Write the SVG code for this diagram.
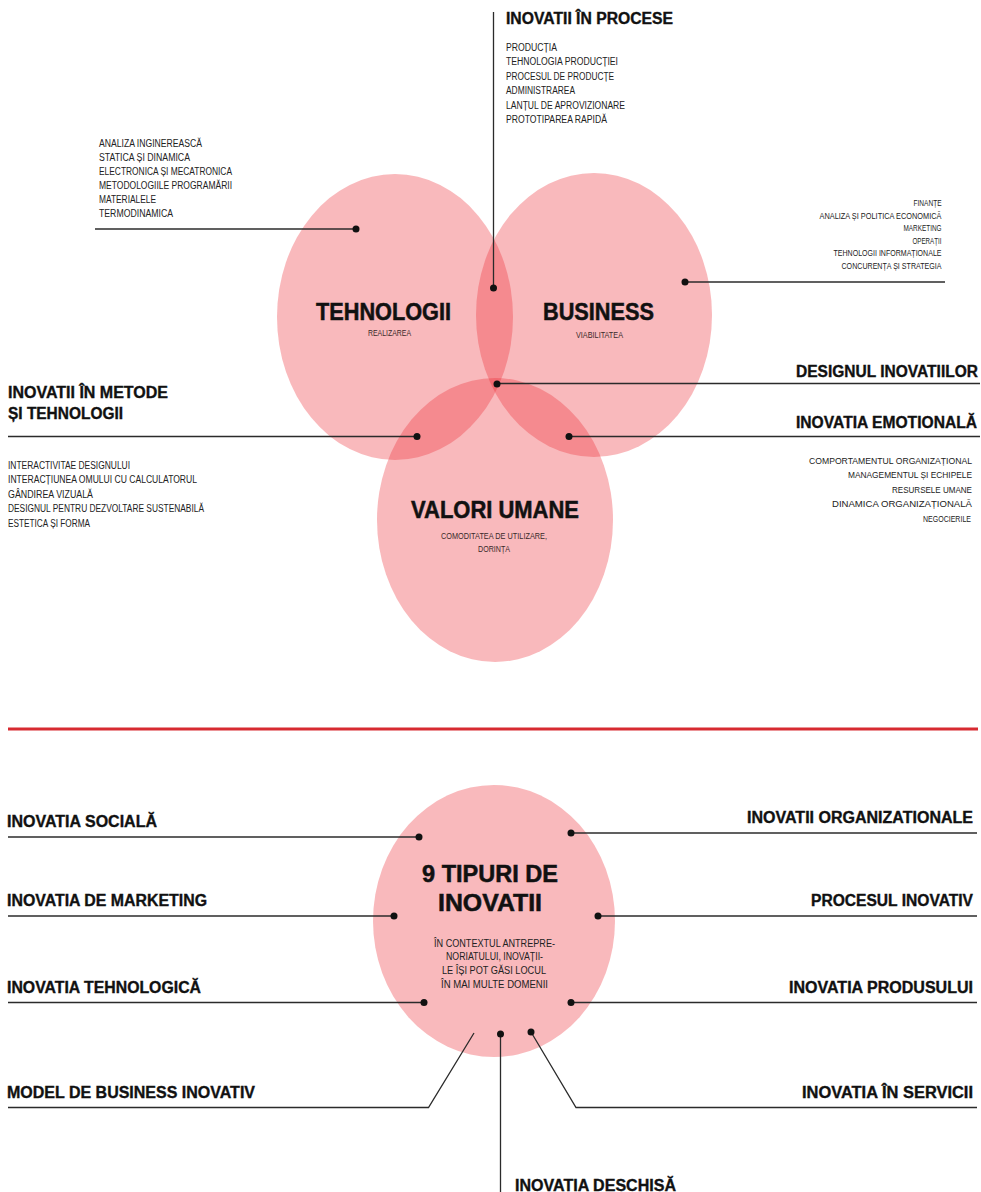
<svg xmlns="http://www.w3.org/2000/svg" width="981" height="1192" viewBox="0 0 981 1192">
  <style>
    .bg { fill: #ffffff; }
    .blob { fill: #ec2a33; fill-opacity: 0.33; }
    .ln { stroke: #2b2b2b; stroke-width: 1.3; fill: none; }
    .dot { fill: #111111; }
    .h { font-family: "Liberation Sans", Arial, sans-serif; font-weight: 700; font-size: 15.6px; fill: #111111; stroke: #111111; stroke-width: 0.35; }
    .t { font-family: "Liberation Sans", Arial, sans-serif; font-weight: 700; font-size: 23px; fill: #111111; stroke: #111111; stroke-width: 0.5; text-anchor: middle; }
    .s { font-family: "Liberation Sans Narrow", "Liberation Sans", Arial, sans-serif; font-size: 10px; fill: #222222; }
    .s2 { font-family: "Liberation Sans Narrow", "Liberation Sans", Arial, sans-serif; font-size: 8.6px; fill: #222222; }
    .xs { font-family: "Liberation Sans Narrow", "Liberation Sans", Arial, sans-serif; font-size: 8.6px; fill: #222222; }
    .sub { font-family: "Liberation Sans Narrow", "Liberation Sans", Arial, sans-serif; font-size: 8.6px; fill: #3a2a2a; text-anchor: middle; }
  </style>

  <rect class="bg" x="0" y="0" width="981" height="1192"/>

  <!-- Venn: three overlapping domains -->
  <g id="tehnologii">
    <ellipse class="blob" cx="395" cy="317" rx="118" ry="143"/>
    <text class="t" x="383.5" y="320" textLength="135" lengthAdjust="spacingAndGlyphs">TEHNOLOGII</text>
    <text class="sub" x="389.5" y="336" textLength="43" lengthAdjust="spacingAndGlyphs">REALIZAREA</text>
  </g>
  <g id="business">
    <ellipse class="blob" cx="594" cy="315" rx="118" ry="142"/>
    <text class="t" x="598.5" y="320" textLength="111" lengthAdjust="spacingAndGlyphs">BUSINESS</text>
    <text class="sub" x="599.5" y="338" textLength="47" lengthAdjust="spacingAndGlyphs">VIABILITATEA</text>
  </g>
  <g id="valori-umane">
    <ellipse class="blob" cx="495" cy="520" rx="118" ry="142"/>
    <text class="t" x="495" y="518" textLength="168" lengthAdjust="spacingAndGlyphs">VALORI UMANE</text>
    <text class="sub" x="494" y="539" textLength="106" lengthAdjust="spacingAndGlyphs">COMODITATEA DE UTILIZARE,</text>
    <text class="sub" x="494" y="552" textLength="32" lengthAdjust="spacingAndGlyphs">DORINȚA</text>
  </g>

  <!-- divider -->
  <line x1="8" y1="729" x2="978" y2="729" stroke="#d72a31" stroke-width="3"/>

  <!-- nine types of innovation -->
  <g id="noua-tipuri">
    <ellipse class="blob" cx="494" cy="921" rx="121" ry="136"/>
    <text class="t" x="490" y="882" textLength="136" lengthAdjust="spacingAndGlyphs">9 TIPURI DE</text>
    <text class="t" x="490" y="911" textLength="104" lengthAdjust="spacingAndGlyphs">INOVATII</text>
    <text class="s" x="494.5" y="946.5" text-anchor="middle" textLength="121" lengthAdjust="spacingAndGlyphs">ÎN CONTEXTUL ANTREPRE-</text>
    <text class="s" x="494.5" y="960" text-anchor="middle" textLength="97" lengthAdjust="spacingAndGlyphs">NORIATULUI, INOVAȚII-</text>
    <text class="s" x="494" y="974" text-anchor="middle" textLength="104" lengthAdjust="spacingAndGlyphs">LE ÎȘI POT GĂSI LOCUL</text>
    <text class="s" x="494.5" y="988" text-anchor="middle" textLength="107" lengthAdjust="spacingAndGlyphs">ÎN MAI MULTE DOMENII</text>
  </g>

  <!-- leader lines and their end dots -->
  <g id="connectors">
    <line class="ln" x1="493.5" y1="12" x2="493.5" y2="288"/>
    <line class="ln" x1="95" y1="229" x2="356" y2="229"/>
    <line class="ln" x1="685" y1="282" x2="945" y2="282"/>
    <line class="ln" x1="497" y1="383.5" x2="980" y2="383.5"/>
    <line class="ln" x1="569" y1="436.5" x2="980" y2="436.5"/>
    <line class="ln" x1="8" y1="436.5" x2="417" y2="436.5"/>

    <line class="ln" x1="8" y1="837" x2="419" y2="837"/>
    <line class="ln" x1="8" y1="916" x2="394" y2="916"/>
    <line class="ln" x1="8" y1="1002.5" x2="424" y2="1002.5"/>
    <polyline class="ln" points="8,1107.5 428.5,1107.5 474,1033"/>
    <line class="ln" x1="571" y1="833" x2="977" y2="833"/>
    <line class="ln" x1="598" y1="916" x2="977" y2="916"/>
    <line class="ln" x1="571" y1="1002.5" x2="977" y2="1002.5"/>
    <polyline class="ln" points="531,1032 576,1107.5 977,1107.5"/>
    <line class="ln" x1="500.5" y1="1034" x2="500.5" y2="1192"/>

    <circle class="dot" cx="493.5" cy="288" r="3.5"/>
    <circle class="dot" cx="356" cy="229" r="3.5"/>
    <circle class="dot" cx="685" cy="282" r="3.5"/>
    <circle class="dot" cx="497" cy="384" r="3.5"/>
    <circle class="dot" cx="569" cy="436.5" r="3.5"/>
    <circle class="dot" cx="417" cy="436.5" r="3.5"/>
    <circle class="dot" cx="419" cy="837" r="3.5"/>
    <circle class="dot" cx="394" cy="916" r="3.5"/>
    <circle class="dot" cx="424" cy="1002.5" r="3.5"/>
    <circle class="dot" cx="571" cy="833" r="3.5"/>
    <circle class="dot" cx="598" cy="916" r="3.5"/>
    <circle class="dot" cx="571" cy="1002.5" r="3.5"/>
    <circle class="dot" cx="531" cy="1032" r="3.5"/>
    <circle class="dot" cx="500.5" cy="1034" r="3.5"/>
  </g>

  <!-- process innovation -->
  <g id="inovatii-procese">
    <text class="h" x="506" y="24" textLength="167" lengthAdjust="spacingAndGlyphs">INOVATII ÎN PROCESE</text>
    <text class="s" x="506" y="50.5" textLength="51" lengthAdjust="spacingAndGlyphs">PRODUCȚIA</text>
    <text class="s" x="506" y="65" textLength="112" lengthAdjust="spacingAndGlyphs">TEHNOLOGIA PRODUCȚIEI</text>
    <text class="s" x="506" y="79.5" textLength="108" lengthAdjust="spacingAndGlyphs">PROCESUL DE PRODUCȚE</text>
    <text class="s" x="506" y="94" textLength="69" lengthAdjust="spacingAndGlyphs">ADMINISTRAREA</text>
    <text class="s" x="506" y="108.5" textLength="119" lengthAdjust="spacingAndGlyphs">LANȚUL DE APROVIZIONARE</text>
    <text class="s" x="506" y="123" textLength="101" lengthAdjust="spacingAndGlyphs">PROTOTIPAREA RAPIDĂ</text>
  </g>

  <!-- engineering topics -->
  <g id="tehnologii-lista">
    <text class="s" x="99" y="146.5" textLength="103" lengthAdjust="spacingAndGlyphs">ANALIZA INGINEREASCĂ</text>
    <text class="s" x="99" y="160.5" textLength="91" lengthAdjust="spacingAndGlyphs">STATICA ȘI DINAMICA</text>
    <text class="s" x="99" y="174.5" textLength="133" lengthAdjust="spacingAndGlyphs">ELECTRONICA ȘI MECATRONICA</text>
    <text class="s" x="99" y="188.5" textLength="133" lengthAdjust="spacingAndGlyphs">METODOLOGIILE PROGRAMĂRII</text>
    <text class="s" x="99" y="202.5" textLength="57" lengthAdjust="spacingAndGlyphs">MATERIALELE</text>
    <text class="s" x="99" y="216.5" textLength="74" lengthAdjust="spacingAndGlyphs">TERMODINAMICA</text>
  </g>

  <!-- business topics (right edge at 941.5) -->
  <g id="business-lista">
    <text class="xs" x="913.5" y="206" textLength="28" lengthAdjust="spacingAndGlyphs">FINANȚE</text>
    <text class="xs" x="819.5" y="218.5" textLength="122" lengthAdjust="spacingAndGlyphs">ANALIZA ȘI POLITICA ECONOMICĂ</text>
    <text class="xs" x="903.5" y="231" textLength="38" lengthAdjust="spacingAndGlyphs">MARKETING</text>
    <text class="xs" x="912.5" y="243.5" textLength="29" lengthAdjust="spacingAndGlyphs">OPERAȚII</text>
    <text class="xs" x="833.5" y="256" textLength="108" lengthAdjust="spacingAndGlyphs">TEHNOLOGII INFORMAȚIONALE</text>
    <text class="xs" x="841.5" y="268.5" textLength="100" lengthAdjust="spacingAndGlyphs">CONCURENȚA ȘI STRATEGIA</text>
  </g>

  <g id="designul-inovatiilor">
    <text class="h" x="796" y="377" textLength="182" lengthAdjust="spacingAndGlyphs">DESIGNUL INOVATIILOR</text>
  </g>

  <!-- emotional innovation (list right edge at 972, stretched 1.15x vertically around y=493) -->
  <g id="inovatia-emotionala">
    <text class="h" x="796" y="427.5" textLength="181" lengthAdjust="spacingAndGlyphs">INOVATIA EMOTIONALĂ</text>
    <g transform="matrix(1,0,0,1.15,0,-73.95)">
      <text class="s2" x="809" y="467.8" textLength="163" lengthAdjust="spacingAndGlyphs">COMPORTAMENTUL ORGANIZAȚIONAL</text>
      <text class="s2" x="848" y="480.4" textLength="124" lengthAdjust="spacingAndGlyphs">MANAGEMENTUL ȘI ECHIPELE</text>
      <text class="s2" x="892" y="493" textLength="80" lengthAdjust="spacingAndGlyphs">RESURSELE UMANE</text>
      <text class="s2" x="832" y="505.6" textLength="140" lengthAdjust="spacingAndGlyphs">DINAMICA ORGANIZAȚIONALĂ</text>
      <text class="s2" x="923" y="518.2" textLength="48" lengthAdjust="spacingAndGlyphs">NEGOCIERILE</text>
    </g>
  </g>

  <!-- methods and technologies -->
  <g id="inovatii-metode">
    <text class="h" x="8" y="398" textLength="160" lengthAdjust="spacingAndGlyphs">INOVATII ÎN METODE</text>
    <text class="h" x="8" y="418.5" textLength="115" lengthAdjust="spacingAndGlyphs">ȘI TEHNOLOGII</text>
    <text class="s" x="8" y="468.5" textLength="122" lengthAdjust="spacingAndGlyphs">INTERACTIVITAE DESIGNULUI</text>
    <text class="s" x="8" y="483" textLength="189" lengthAdjust="spacingAndGlyphs">INTERACȚIUNEA OMULUI CU CALCULATORUL</text>
    <text class="s" x="8" y="497.5" textLength="85" lengthAdjust="spacingAndGlyphs">GÂNDIREA VIZUALĂ</text>
    <text class="s" x="8" y="512" textLength="196" lengthAdjust="spacingAndGlyphs">DESIGNUL PENTRU DEZVOLTARE SUSTENABILĂ</text>
    <text class="s" x="8" y="526.5" textLength="82" lengthAdjust="spacingAndGlyphs">ESTETICA ȘI FORMA</text>
  </g>

  <!-- left-hand types -->
  <g id="inovatia-sociala">
    <text class="h" x="7" y="827" textLength="150" lengthAdjust="spacingAndGlyphs">INOVATIA SOCIALĂ</text>
  </g>
  <g id="inovatia-marketing">
    <text class="h" x="7" y="906" textLength="200" lengthAdjust="spacingAndGlyphs">INOVATIA DE MARKETING</text>
  </g>
  <g id="inovatia-tehnologica">
    <text class="h" x="7" y="993" textLength="194" lengthAdjust="spacingAndGlyphs">INOVATIA TEHNOLOGICĂ</text>
  </g>
  <g id="model-business">
    <text class="h" x="7" y="1098" textLength="248" lengthAdjust="spacingAndGlyphs">MODEL DE BUSINESS INOVATIV</text>
  </g>

  <!-- right-hand types (right edge at 973) -->
  <g id="inovatii-organizationale">
    <text class="h" x="747" y="823" textLength="226" lengthAdjust="spacingAndGlyphs">INOVATII ORGANIZATIONALE</text>
  </g>
  <g id="procesul-inovativ">
    <text class="h" x="811" y="905.5" textLength="162" lengthAdjust="spacingAndGlyphs">PROCESUL INOVATIV</text>
  </g>
  <g id="inovatia-produsului">
    <text class="h" x="789" y="992.5" textLength="184" lengthAdjust="spacingAndGlyphs">INOVATIA PRODUSULUI</text>
  </g>
  <g id="inovatia-servicii">
    <text class="h" x="802" y="1098" textLength="171" lengthAdjust="spacingAndGlyphs">INOVATIA ÎN SERVICII</text>
  </g>

  <!-- open innovation -->
  <g id="inovatia-deschisa">
    <text class="h" x="515" y="1191" textLength="161" lengthAdjust="spacingAndGlyphs">INOVATIA DESCHISĂ</text>
  </g>
</svg>
